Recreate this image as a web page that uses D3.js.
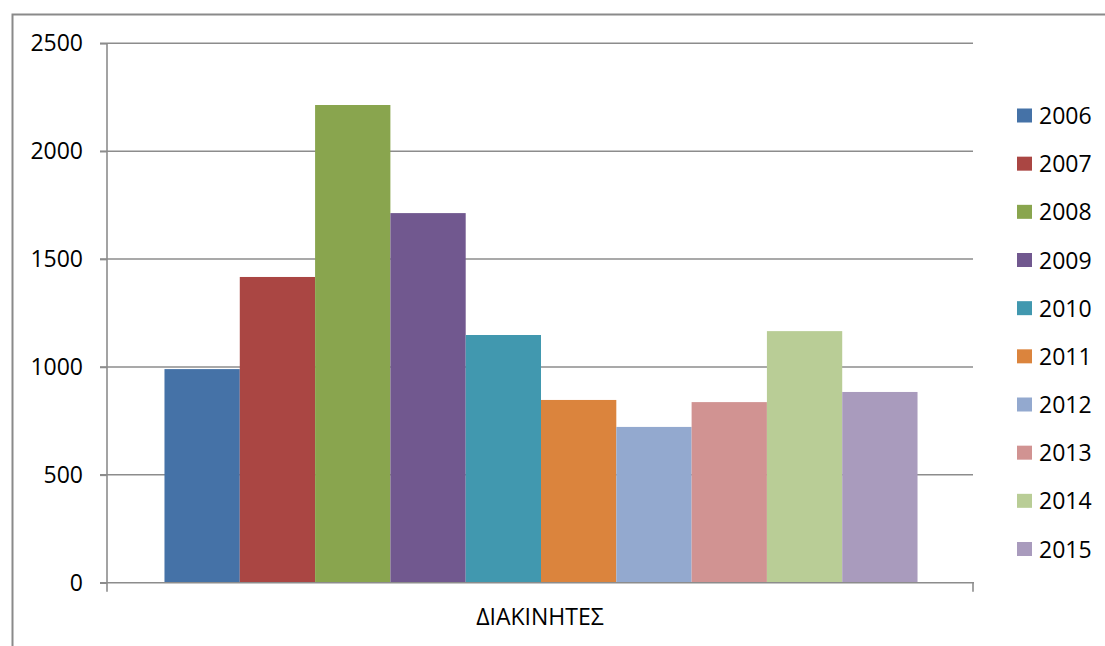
<!DOCTYPE html>
<html>
<head>
<meta charset="utf-8">
<script src="https://cdn.jsdelivr.net/npm/d3@7/dist/d3.min.js"></script>
<style>
  html, body { margin: 0; padding: 0; background: #fff; }
  svg { display: block; }
  text { font-family: "Open Sans", "Liberation Sans", sans-serif; fill: #000; }
</style>
</head>
<body>
<svg id="chart" width="1105" height="646"></svg>
<script>
// Category and series
const categories = ["ΔΙΑΚΙΝΗΤΕΣ"];
const years = ["2006", "2007", "2008", "2009", "2010", "2011", "2012", "2013", "2014", "2015"];
const values = [990, 1417, 2214, 1713, 1148, 847, 722, 837, 1166, 884];
const colors = ["#4572A7", "#AA4643", "#89A54E", "#71588F", "#4198AF",
                "#DB843D", "#93A9CF", "#D19392", "#B9CD96", "#A99BBD"];
const yTicks = [0, 500, 1000, 1500, 2000, 2500];

const svg = d3.select("#chart");
const W = 1105, H = 646;

// Chart frame (top and left edges)
svg.append("path")
  .attr("d", `M12.5,${H} V14.5 H${W}`)
  .attr("fill", "none")
  .attr("stroke", "#8a8a8a")
  .attr("stroke-width", 2);

const plot = { left: 107, right: 973, top: 43.3, bottom: 582.7 };

const y = d3.scaleLinear().domain([0, 2500]).range([plot.bottom, plot.top]);
const x0 = d3.scaleBand().domain(categories).range([plot.left, plot.right]).padding(0);
// gap of 150% of a bar width split across both sides
const x1 = d3.scaleBand().domain(years)
  .range([0, x0.bandwidth()])
  .paddingOuter(0.75).paddingInner(0);

// Gridlines with tick marks to the left
const grid = svg.append("g");
grid.selectAll("line")
  .data(yTicks.filter(d => d > 0))
  .join("line")
  .attr("x1", plot.left - 7).attr("x2", plot.right)
  .attr("y1", d => y(d)).attr("y2", d => y(d))
  .attr("stroke", "#8c8c8c").attr("stroke-width", 1.6);

// Bars
const g = svg.append("g").attr("transform", `translate(${x0(categories[0]) + 1},0)`);
g.selectAll("rect")
  .data(years.map((yr, i) => ({ yr, v: values[i], c: colors[i] })))
  .join("rect")
  .attr("x", d => x1(d.yr))
  .attr("width", x1.bandwidth())
  .attr("y", d => y(d.v))
  .attr("height", d => y(0) - y(d.v))
  .attr("fill", d => d.c);

// Y axis
const yAxis = d3.axisLeft(y).tickValues(yTicks).tickSize(7).tickPadding(17)
  .tickFormat(d3.format("d"));
const ya = svg.append("g").attr("transform", `translate(${plot.left},0)`).call(yAxis);
ya.select(".domain").attr("stroke", "#8c8c8c").attr("stroke-width", 1.6)
  .attr("d", `M0,${plot.top}V${plot.bottom}`);
ya.selectAll(".tick line").attr("stroke", "#8c8c8c").attr("stroke-width", 1.6);
ya.selectAll(".tick text").style("font-size", "23px").attr("fill", "#000");

// X axis with boundary ticks
const xa = svg.append("g");
xa.append("line")
  .attr("x1", plot.left - 7).attr("x2", plot.right + 1)
  .attr("y1", y(0)).attr("y2", y(0))
  .attr("stroke", "#8c8c8c").attr("stroke-width", 1.6);
xa.selectAll("line.bt")
  .data([plot.left, plot.right])
  .join("line").attr("class", "bt")
  .attr("x1", d => d).attr("x2", d => d)
  .attr("y1", y(0)).attr("y2", y(0) + 9)
  .attr("stroke", "#8c8c8c").attr("stroke-width", 1.6);
xa.selectAll("text")
  .data(categories)
  .join("text")
  .attr("x", d => x0(d) + x0.bandwidth() / 2)
  .attr("y", 625)
  .attr("text-anchor", "middle")
  .style("font-size", "23px")
  .text(d => d);

// Legend
const legend = svg.append("g").attr("transform", "translate(1017,0)");
const ly = d3.scalePoint().domain(years).range([115.5, 549]);
const items = legend.selectAll("g")
  .data(years.map((yr, i) => ({ yr, c: colors[i] })))
  .join("g")
  .attr("transform", d => `translate(0,${ly(d.yr)})`);
items.append("rect")
  .attr("x", 0).attr("y", -7).attr("width", 15).attr("height", 14)
  .attr("fill", d => d.c);
items.append("text")
  .attr("x", 22).attr("y", 8.5)
  .style("font-size", "23px")
  .text(d => d.yr);
</script>
</body>
</html>
